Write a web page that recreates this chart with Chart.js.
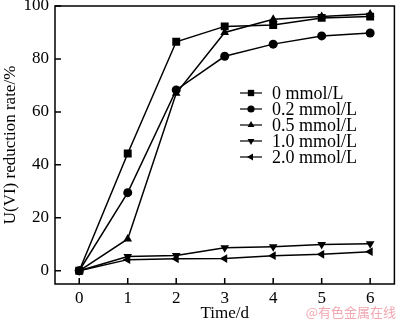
<!DOCTYPE html>
<html>
<head>
<meta charset="utf-8">
<script src="https://cdn.jsdelivr.net/npm/chart.js@4/dist/chart.umd.min.js"></script>
<style>
  html, body { margin: 0; padding: 0; background: #fff; }
  #wrap { width: 400px; height: 324px; }
</style>
</head>
<body>
<div id="wrap"><canvas id="chart" width="400" height="324"></canvas></div>
<script>
const days = [0, 1, 2, 3, 4, 5, 6];
const yTicks = [0, 20, 40, 60, 80, 100];
const labels = ["0 mmol/L", "0.2 mmol/L", "0.5 mmol/L", "1.0 mmol/L", "2.0 mmol/L"];

const c0 = [0, 44.3, 86.5, 92.3, 92.8, 95.5, 96.0];
const c02 = [0, 29.5, 68.3, 81.0, 85.6, 88.7, 89.8];
const c05 = [0, 12.0, 67.0, 90.0, 95.0, 96.0, 97.0];
const c10 = [0, 5.4, 5.8, 8.7, 9.1, 9.9, 10.2];
const c20 = [0, 4.2, 4.5, 4.6, 5.7, 6.2, 7.2];

const styles = [
  { pointStyle: "rect", rotation: 0, r: 5.6 },
  { pointStyle: "circle", rotation: 0, r: 4.5 },
  { pointStyle: "triangle", rotation: 0, r: 5 },
  { pointStyle: "triangle", rotation: 180, r: 5 },
  { pointStyle: "triangle", rotation: 270, r: 5 }
];

const serif = "'Liberation Serif', 'DejaVu Serif', serif";

function makeSet(i, values) {
  const s = styles[i];
  return {
    label: labels[i],
    data: days.map((d, k) => ({ x: d, y: values[k] })),
    borderColor: "#000",
    backgroundColor: "#000",
    borderWidth: 1.5,
    pointStyle: s.pointStyle,
    rotation: s.rotation,
    pointRadius: s.r,
    pointBorderWidth: 0,
    pointBackgroundColor: "#000",
    tension: 0
  };
}

const frame = {
  id: "frame",
  afterDraw(chart) {
    const ctx = chart.ctx;
    const a = chart.chartArea;
    const xs = chart.scales.x, ys = chart.scales.y;
    ctx.save();
    ctx.strokeStyle = "#000";
    ctx.lineWidth = 1.5;
    ctx.strokeRect(a.left, a.top, a.right - a.left, a.bottom - a.top);
    // inward ticks
    ctx.beginPath();
    days.forEach(d => {
      const px = xs.getPixelForValue(d);
      ctx.moveTo(px, a.bottom);
      ctx.lineTo(px, a.bottom - 6);
    });
    yTicks.forEach(v => {
      const py = ys.getPixelForValue(v);
      ctx.moveTo(a.left, py);
      ctx.lineTo(a.left + 6, py);
    });
    ctx.stroke();

    // legend
    const lx0 = 240, lx1 = 262, tx = 272;
    let ly = 93;
    chart.data.datasets.forEach((ds, i) => {
      ctx.strokeStyle = "#000";
      ctx.lineWidth = 1.2;
      ctx.beginPath();
      ctx.moveTo(lx0, ly);
      ctx.lineTo(lx1, ly);
      ctx.stroke();
      ctx.fillStyle = "#000";
      Chart.helpers.drawPoint(ctx, {
        pointStyle: styles[i].pointStyle,
        rotation: styles[i].rotation,
        radius: styles[i].r * 0.8,
        borderWidth: 0
      }, (lx0 + lx1) / 2, ly);
      ctx.font = "18px " + serif;
      ctx.textBaseline = "middle";
      ctx.textAlign = "left";
      ctx.fillText(ds.label, tx, ly + 1);
      ly += 16;
    });

    // watermark
    ctx.font = "13px 'Noto Sans CJK SC', sans-serif";
    ctx.fillStyle = "#f2a7b0";
    ctx.textAlign = "right";
    ctx.textBaseline = "middle";
    ctx.fillText("@有色金属在线", 396, 312);
    ctx.restore();
  }
};

new Chart(document.getElementById("chart"), {
  type: "line",
  data: {
    datasets: [
      makeSet(0, c0),
      makeSet(1, c02),
      makeSet(2, c05),
      makeSet(3, c10),
      makeSet(4, c20)
    ]
  },
  options: {
    responsive: false,
    animation: false,
    layout: { padding: { top: 6, right: 3, left: 0, bottom: 0 } },
    plugins: { legend: { display: false }, tooltip: { enabled: false } },
    scales: {
      x: {
        type: "linear",
        min: -0.5,
        max: 6.5,
        afterBuildTicks: s => { s.ticks = days.map(v => ({ value: v })); },
        afterFit: s => { s.height = 40; s.paddingLeft = 0; s.paddingRight = 0; },
        grid: { display: false, drawTicks: false },
        border: { display: false },
        ticks: { color: "#000", font: { family: serif, size: 17 }, padding: 4 },
        title: { display: true, text: "Time/d", color: "#000", font: { family: serif, size: 17 }, padding: { top: 0, bottom: 0 } }
      },
      y: {
        type: "linear",
        min: -5,
        max: 100,
        afterBuildTicks: s => { s.ticks = yTicks.map(v => ({ value: v })); },
        afterFit: s => { s.width = 55; s.paddingTop = 0; s.paddingBottom = 0; },
        grid: { display: false, drawTicks: false },
        border: { display: false },
        ticks: { color: "#000", font: { family: serif, size: 17 }, padding: 6 },
        title: { display: true, text: "U(VI) reduction rate/%", color: "#000", font: { family: serif, size: 17 }, padding: { top: 0, bottom: 0 } }
      }
    }
  },
  plugins: [frame]
});
</script>
</body>
</html>
